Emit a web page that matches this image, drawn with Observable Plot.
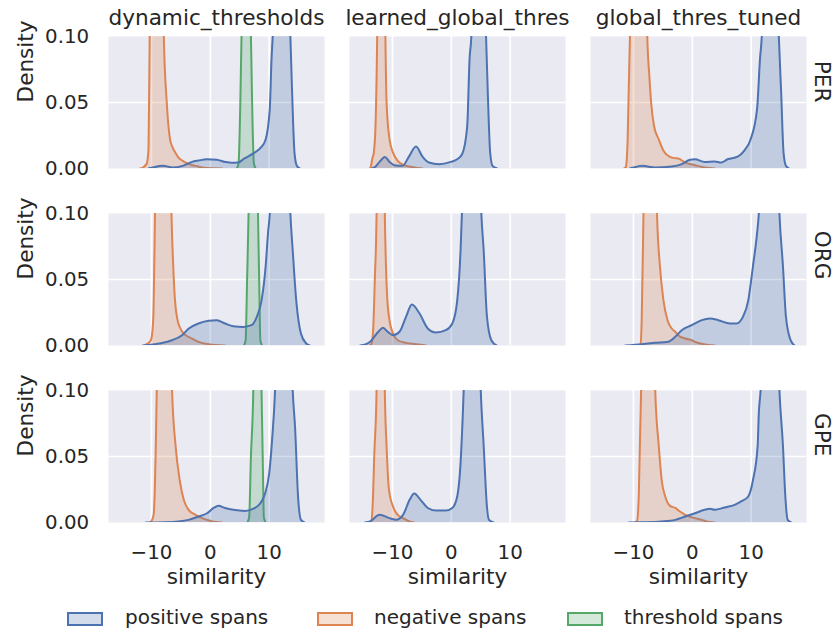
<!DOCTYPE html>
<html><head><meta charset="utf-8">
<script src="https://cdn.jsdelivr.net/npm/d3@7"></script>
<script src="https://cdn.jsdelivr.net/npm/@observablehq/plot@0.6"></script>
<style>
body{margin:0;background:#fff;font-family:"DejaVu Sans",sans-serif;}
#wrap{position:relative;width:837px;height:633px;overflow:hidden;}
#legend{position:absolute;left:0;top:600px;width:837px;height:33px;}
.sw{position:absolute;top:12px;width:36px;height:14px;border:2px solid;box-sizing:border-box;}
.lt{position:absolute;top:7px;font-size:20px;line-height:20px;color:#262626;white-space:nowrap;}
</style></head>
<body><div id="wrap"><div id="chart"></div><div id="legend"></div></div>
<script>
const methods = ["dynamic_thresholds", "learned_global_thres", "global_thres_tuned"];
const entities = ["PER", "ORG", "GPE"];
const kindLabels = ["positive spans", "negative spans", "threshold spans"];
const xTicks = [-10, 0, 10];
const yTicks = [0, 0.05, 0.1];

// [similarity, density] (peaks beyond 0.10 are clipped)
const dynPERpos = [[-10.5,0],[-10,0.0005],[-8,0.002],[-6.4,0.0008],[-4.7,0.002],[-3.1,0.005],[-2,0.006],[-0.6,0.007],[1.1,0.0066],[2.5,0.005],[3.6,0.0043],[4.7,0.0045],[5.8,0.0076],[7.5,0.012],[8.6,0.016],[9.4,0.022],[10.1,0.045],[10.4,0.083],[10.6,0.1],[11.2,0.2],[12.1,0.25],[13,0.2],[13.6,0.1],[13.9,0.057],[14.3,0.012],[14.7,0.002],[15.2,0]];
const dynPERneg = [[-12,0],[-11.67,0.0003],[-10.83,0.0035],[-10.5,0.015],[-10.3,0.1],[-10,0.22],[-9.1,0.3],[-8.3,0.22],[-7.9,0.1],[-7.4,0.05],[-6.8,0.021],[-6.5,0.017],[-5.8,0.011],[-5.4,0.0083],[-4.7,0.0058],[-3.6,0.0033],[-2.5,0.002],[-1.4,0.0008],[0.3,0.0001],[2,0]];
const dynPERthr = [[4.5,0],[4.8,0.004],[5.1,0.05],[5.3,0.1],[5.6,0.2],[6.1,0.24],[6.6,0.2],[6.9,0.1],[7.1,0.05],[7.4,0.004],[7.7,0]];

const lgPERpos = [[-13.5,0],[-13,0.001],[-12.2,0.005],[-11.3,0.0088],[-10.5,0.005],[-9.7,0.0025],[-8.3,0.002],[-7.2,0.009],[-6,0.0167],[-4.9,0.009],[-3.8,0.0045],[-2.1,0.0033],[-0.1,0.005],[1,0.007],[1.85,0.011],[2.7,0.032],[3.1,0.083],[3.4,0.1],[4,0.22],[4.65,0.26],[5.3,0.22],[5.9,0.1],[6.2,0.057],[6.6,0.012],[7,0.002],[7.8,0]];
const lgPERneg = [[-13.9,0],[-13.7,0.001],[-13.4,0.008],[-13.2,0.011],[-12.9,0.03],[-12.6,0.1],[-12.3,0.25],[-11.9,0.33],[-11.5,0.25],[-11.2,0.1],[-11,0.05],[-10.5,0.022],[-9.9,0.012],[-9.1,0.0058],[-8,0.0025],[-6.3,0.0008],[-4.9,0]];

const gtPERpos = [[-10.6,0],[-10.2,0.0005],[-8.5,0.002],[-6.3,0.0008],[-3.5,0.0015],[-1.8,0.0033],[-0.4,0.0066],[0.45,0.007],[2.1,0.005],[3.8,0.0053],[4.9,0.0045],[6,0.007],[7.7,0.009],[8.8,0.0134],[9.9,0.022],[11,0.045],[11.5,0.083],[11.8,0.1],[12.5,0.22],[13.25,0.26],[14,0.22],[14.7,0.1],[15.1,0.057],[15.5,0.012],[15.9,0.002],[16.4,0]];
const gtPERneg = [[-11.6,0],[-11.3,0.001],[-11,0.02],[-10.6,0.1],[-10.2,0.22],[-9.1,0.28],[-8.1,0.22],[-7.65,0.1],[-7.3,0.07],[-7,0.05],[-6.5,0.032],[-5.7,0.022],[-4.9,0.0134],[-3.8,0.0088],[-2.9,0.0078],[-2.4,0.0076],[-1.2,0.0045],[0.45,0.0025],[2.1,0.0008],[3.8,0]];

const dynORGpos = [[-11.5,0],[-10,0.0005],[-8.7,0.0015],[-6.5,0.004],[-4.8,0.0078],[-3.65,0.0129],[-2,0.0167],[-0.3,0.0187],[1.1,0.0192],[2.5,0.0167],[3.9,0.0146],[5.6,0.0141],[7,0.0154],[7.9,0.0217],[8.7,0.034],[9.4,0.06],[9.8,0.085],[10.1,0.1],[10.9,0.22],[11.85,0.26],[12.8,0.22],[13.6,0.1],[14,0.072],[14.6,0.034],[15.4,0.009],[16.3,0.0015],[16.9,0]];
const dynORGneg = [[-11.2,0],[-11,0.0005],[-10.1,0.004],[-9.7,0.02],[-9.4,0.1],[-9,0.22],[-7.9,0.3],[-7,0.22],[-6.6,0.1],[-6.3,0.06],[-6,0.034],[-5.6,0.02],[-5.2,0.014],[-4.5,0.009],[-3.1,0.0053],[-2,0.0028],[-0.3,0.001],[2.5,0]];
const dynORGthr = [[5.7,0],[6,0.004],[6.25,0.05],[6.5,0.1],[6.8,0.2],[7.3,0.24],[7.8,0.2],[8.1,0.1],[8.3,0.05],[8.5,0.004],[8.8,0]];

const lgORGpos = [[-15.5,0],[-14.5,0.001],[-13.8,0.0028],[-12.4,0.0104],[-11.6,0.0134],[-10.8,0.0104],[-9.9,0.0078],[-8.8,0.0104],[-7.7,0.0217],[-6.7,0.031],[-5.4,0.0242],[-4,0.0129],[-2.6,0.0098],[-0.95,0.0116],[0.17,0.0167],[1,0.034],[1.57,0.072],[1.8,0.1],[2.5,0.22],[3.45,0.26],[4.4,0.22],[5.1,0.1],[5.5,0.072],[6.05,0.022],[6.8,0.004],[7.7,0]];
const lgORGneg = [[-13.9,0],[-13.6,0.001],[-13.3,0.01],[-13,0.05],[-12.7,0.1],[-12.4,0.25],[-12,0.33],[-11.6,0.25],[-11.3,0.1],[-11.1,0.06],[-10.9,0.037],[-10.5,0.019],[-9.9,0.009],[-9.1,0.004],[-7.7,0.002],[-6,0.001],[-4.3,0]];

const gtORGpos = [[-11.4,0],[-8.6,0.001],[-6.3,0.002],[-4.1,0.0028],[-2.9,0.0066],[-1.8,0.0116],[-0.1,0.0154],[1.6,0.0192],[3,0.0205],[4.4,0.0192],[6.4,0.0167],[7.5,0.0167],[8.6,0.0217],[9.5,0.034],[10.3,0.06],[11,0.085],[11.3,0.1],[12.1,0.22],[13.05,0.26],[14,0.22],[14.8,0.1],[15.4,0.06],[15.9,0.022],[16.7,0.004],[17.4,0]];
const gtORGneg = [[-9.2,0],[-8.8,0.001],[-8.6,0.02],[-8.3,0.1],[-7.9,0.22],[-7.15,0.28],[-6.4,0.22],[-6,0.1],[-5.5,0.06],[-4.9,0.034],[-4.2,0.019],[-3.5,0.0129],[-2.9,0.0104],[-2.4,0.0078],[-1.2,0.0053],[-0.1,0.004],[0.45,0.0028],[1.9,0.001],[3.8,0]];

const dynGPEpos = [[-11,0],[-7.6,0.0002],[-5.4,0.0008],[-3.7,0.002],[-2,0.0045],[-0.56,0.007],[0.56,0.011],[1.4,0.0126],[2.5,0.011],[3.9,0.0096],[5.9,0.0088],[7.6,0.011],[8.5,0.0146],[9.3,0.022],[10,0.037],[10.5,0.063],[11,0.1],[11.7,0.22],[12.5,0.26],[13.3,0.22],[14,0.1],[14.4,0.072],[14.9,0.02],[15.4,0.002],[16,0]];
const dynGPEneg = [[-10.4,0],[-10.1,0.0005],[-9.8,0.003],[-9.6,0.007],[-9.3,0.05],[-9.1,0.1],[-8.6,0.22],[-7.75,0.28],[-6.9,0.22],[-6.5,0.1],[-5.9,0.058],[-5.2,0.032],[-4.5,0.017],[-3.7,0.0096],[-2.5,0.0058],[-1.4,0.0033],[-0.6,0.002],[0.3,0.0008],[2,0]];
const dynGPEthr = [[6.3,0],[6.6,0.004],[6.9,0.05],[7.3,0.1],[7.6,0.2],[8,0.24],[8.4,0.2],[8.7,0.1],[8.9,0.05],[9.1,0.004],[9.4,0]];

const lgGPEpos = [[-14.7,0],[-13.8,0.0008],[-12.2,0.0058],[-10.5,0.0033],[-9.4,0.002],[-8.2,0.0058],[-7.1,0.017],[-6.3,0.022],[-5.2,0.017],[-4,0.011],[-2.6,0.009],[-0.95,0.009],[0.17,0.011],[1,0.0197],[1.57,0.045],[1.96,0.083],[2.1,0.1],[2.8,0.22],[3.55,0.26],[4.3,0.22],[5,0.1],[5.5,0.058],[6.05,0.012],[6.4,0.002],[7.2,0]];
const lgGPEneg = [[-13.9,0],[-13.6,0.001],[-13.3,0.02],[-13.1,0.05],[-12.7,0.1],[-12.4,0.25],[-12,0.33],[-11.6,0.25],[-11.3,0.1],[-11,0.058],[-10.6,0.025],[-9.9,0.012],[-9.1,0.0058],[-8.2,0.0033],[-7.1,0.0008],[-6.3,0]];

const gtGPEpos = [[-10.8,0],[-8.6,0.0002],[-5.2,0.0008],[-2.9,0.002],[-1.2,0.0045],[0.45,0.007],[2.1,0.0096],[3,0.0104],[3.8,0.0096],[5.5,0.0114],[7.2,0.0134],[8.3,0.016],[9.5,0.0197],[10.3,0.032],[11.1,0.058],[11.3,0.083],[11.6,0.1],[12.4,0.22],[13.2,0.26],[14,0.22],[14.8,0.1],[15.4,0.058],[15.8,0.02],[16.2,0.002],[16.8,0]];
const gtGPEneg = [[-9.7,0],[-9.4,0.001],[-9.1,0.02],[-8.7,0.1],[-8.3,0.22],[-7.5,0.28],[-6.7,0.22],[-6.3,0.1],[-5.7,0.058],[-5.2,0.032],[-4.6,0.0197],[-3.8,0.0126],[-2.9,0.011],[-2.1,0.0083],[-1.2,0.0058],[0.45,0.0033],[1.6,0.002],[2.4,0.0008],[3.8,0]];

const colors = ["#4C72B0", "#DD8452", "#55A868"];
const fills = ["rgba(76,114,176,0.25)", "rgba(221,132,82,0.25)", "rgba(85,168,104,0.25)"];

function rows(arr, m, e, k) { return arr.map(([x, y]) => ({method: methods[m], entity: e, kind: k, x, y})); }
const data = [
  ...rows(dynPERpos,0,"PER",0), ...rows(dynPERneg,0,"PER",1), ...rows(dynPERthr,0,"PER",2),
  ...rows(lgPERpos,1,"PER",0), ...rows(lgPERneg,1,"PER",1),
  ...rows(gtPERpos,2,"PER",0), ...rows(gtPERneg,2,"PER",1),
  ...rows(dynORGpos,0,"ORG",0), ...rows(dynORGneg,0,"ORG",1), ...rows(dynORGthr,0,"ORG",2),
  ...rows(lgORGpos,1,"ORG",0), ...rows(lgORGneg,1,"ORG",1),
  ...rows(gtORGpos,2,"ORG",0), ...rows(gtORGneg,2,"ORG",1),
  ...rows(dynGPEpos,0,"GPE",0), ...rows(dynGPEneg,0,"GPE",1), ...rows(dynGPEthr,0,"GPE",2),
  ...rows(lgGPEpos,1,"GPE",0), ...rows(lgGPEneg,1,"GPE",1),
  ...rows(gtGPEpos,2,"GPE",0), ...rows(gtGPEneg,2,"GPE",1)
];

const curveMarks = [2, 1, 0].flatMap(k => {
  const sub = data.filter(d => d.kind === k);
  return [
    Plot.areaY(sub, {x: "x", y: "y", fx: "method", fy: "entity", fill: colors[k], fillOpacity: 0.25, curve: "monotone-x", clip: true}),
    Plot.lineY(sub, {x: "x", y: "y", fx: "method", fy: "entity", stroke: colors[k], strokeWidth: 2, curve: "monotone-x", clip: true})
  ];
});

const chart = Plot.plot({
  width: 837, height: 600,
  marginLeft: 106.7, marginRight: 30.3, marginTop: 35.7, marginBottom: 77.3,
  style: {fontFamily: "DejaVu Sans", fontSize: "19.8px", color: "#262626", background: "white", overflow: "visible"},
  x: {domain: [-17.3, 19.4]},
  y: {domain: [0, 0.1]},
  fx: {domain: methods, paddingInner: 0.1035, paddingOuter: 0, axis: null, label: null},
  fy: {domain: entities, paddingInner: 0.256, paddingOuter: 0, axis: null, label: null},
  marks: [
    Plot.frame({fill: "#EAEAF2", stroke: "none"}),
    Plot.gridX({ticks: xTicks, stroke: "white", strokeOpacity: 1, strokeWidth: 1.7}),
    Plot.gridY({ticks: [0.05], stroke: "white", strokeOpacity: 1, strokeWidth: 1.7}),
    ...curveMarks,
    Plot.axisX({ticks: xTicks, tickSize: 0, tickPadding: 22, label: null}),
    Plot.axisY({ticks: yTicks, tickFormat: ".2f", tickSize: 0, tickPadding: 19.4, label: null}),
    Plot.text(methods, {fx: d => d, fy: () => "PER", text: d => d, frameAnchor: "top", lineAnchor: "middle", dy: -18.6, fontSize: 21.6}),
    Plot.text(methods, {fx: d => d, fy: () => "GPE", text: () => "similarity", frameAnchor: "bottom", lineAnchor: "middle", dy: 54.4, fontSize: 21.6}),
    Plot.text(entities, {fx: () => methods[0], fy: d => d, text: () => "Density", frameAnchor: "left", lineAnchor: "middle", rotate: -90, dx: -82.9, fontSize: 21.6}),
    Plot.text(entities, {fx: () => methods[2], fy: d => d, text: d => d, frameAnchor: "right", lineAnchor: "middle", rotate: 90, dx: 15.3, fontSize: 21.6})
  ]
});
document.getElementById("chart").appendChild(chart);

const legend = document.getElementById("legend");
const swLeft = [67, 317, 567];
const txLeft = [125, 374, 624];
kindLabels.forEach((lab, i) => {
  const sw = document.createElement("div");
  sw.className = "sw";
  sw.style.left = swLeft[i] + "px";
  sw.style.borderColor = colors[i];
  sw.style.background = fills[i];
  legend.appendChild(sw);
  const t = document.createElement("div");
  t.className = "lt";
  t.style.left = txLeft[i] + "px";
  t.textContent = lab;
  legend.appendChild(t);
});
</script></body></html>
